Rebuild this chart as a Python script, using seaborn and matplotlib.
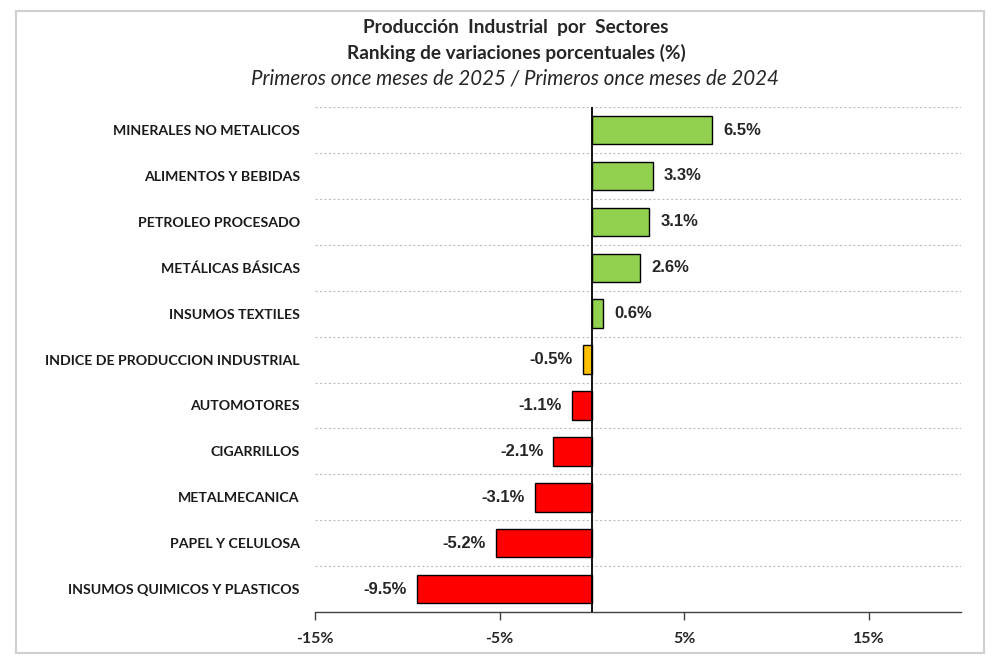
import matplotlib
matplotlib.use("Agg")
import matplotlib.pyplot as plt
import seaborn as sns
import pandas as pd
from matplotlib.patches import Rectangle

categories = [
    "MINERALES NO METALICOS",
    "ALIMENTOS Y BEBIDAS",
    "PETROLEO PROCESADO",
    "METÁLICAS BÁSICAS",
    "INSUMOS TEXTILES",
    "INDICE DE PRODUCCION INDUSTRIAL",
    "AUTOMOTORES",
    "CIGARRILLOS",
    "METALMECANICA",
    "PAPEL Y CELULOSA",
    "INSUMOS QUIMICOS Y PLASTICOS",
]
values = [6.5, 3.3, 3.1, 2.6, 0.6, -0.5, -1.1, -2.1, -3.1, -5.2, -9.5]
groups = ["pos", "pos", "pos", "pos", "pos", "idx", "neg", "neg", "neg", "neg", "neg"]
palette = {"pos": "#92D050", "idx": "#FFC000", "neg": "#FF0000"}
xticks = [-15, -5, 5, 15]
xticklabels = ["-15%", "-5%", "5%", "15%"]

df = pd.DataFrame({"cat": categories, "val": values, "grp": groups})

sns.set_theme(style="white")
plt.rcParams["font.family"] = ["Lato", "DejaVu Sans"]

fig = plt.figure(figsize=(10, 6.61), dpi=100)
ax = fig.add_axes([0.315, 0.074, 0.646, 0.764])

sns.barplot(data=df, y="cat", x="val", hue="grp", palette=palette, dodge=False,
            orient="h", width=0.62, edgecolor="black", linewidth=1.0, saturation=1,
            legend=False, ax=ax)

ax.set_xlim(-15, 20)
ax.set_ylim(len(categories) - 0.5, -0.5)
ax.set_xticks(xticks)
ax.set_xticklabels(xticklabels, fontsize=11.5, fontweight="bold")
ax.set_xlabel("")
ax.set_ylabel("")
ax.tick_params(axis="y", length=0, pad=11)
ax.tick_params(axis="x", length=6, width=1, color="#404040", direction="out", pad=8, bottom=True)
for lab in ax.get_yticklabels():
    lab.set_fontsize(10.2)
    lab.set_fontweight("bold")
    lab.set_color("#1a1a1a")

for s in ["top", "right", "left"]:
    ax.spines[s].set_visible(False)
ax.spines["bottom"].set_color("#404040")
ax.spines["bottom"].set_linewidth(1.0)

for i in range(len(categories)):
    ax.axhline(i - 0.5, color="#BFBFBF", linestyle=(0, (2, 2)), linewidth=0.8, zorder=0)
ax.axvline(0, color="black", linewidth=1.3, zorder=5)

for i, v in enumerate(values):
    lbl = f"{v:.1f}%"
    if v >= 0:
        ax.annotate(lbl, (v, i), xytext=(8, 0), textcoords="offset points",
                    ha="left", va="center", fontsize=12, fontweight="bold",
                    family=["Liberation Sans", "DejaVu Sans"], color="#262626")
    else:
        ax.annotate(lbl, (v, i), xytext=(-7, 0), textcoords="offset points",
                    ha="right", va="center", fontsize=12, fontweight="bold",
                    family=["Liberation Sans", "DejaVu Sans"], color="#262626")

fig.text(0.516, 1 - 27 / 661, "Producción  Industrial  por  Sectores", ha="center", va="center",
         fontsize=13.7, fontweight="bold")
fig.text(0.516, 1 - 53 / 661, "Ranking de variaciones porcentuales (%)", ha="center", va="center",
         fontsize=13.7, fontweight="bold")
fig.text(0.515, 1 - 79 / 661, "Primeros once meses de 2025 / Primeros once meses de 2024", ha="center",
         va="center", fontsize=14.8, style="italic")

fig.patches.append(Rectangle((0.016, 0.012), 0.968, 0.972, transform=fig.transFigure,
                             fill=False, edgecolor="#D0D0D0", linewidth=1.5))

fig.savefig("out.png", dpi=100)
